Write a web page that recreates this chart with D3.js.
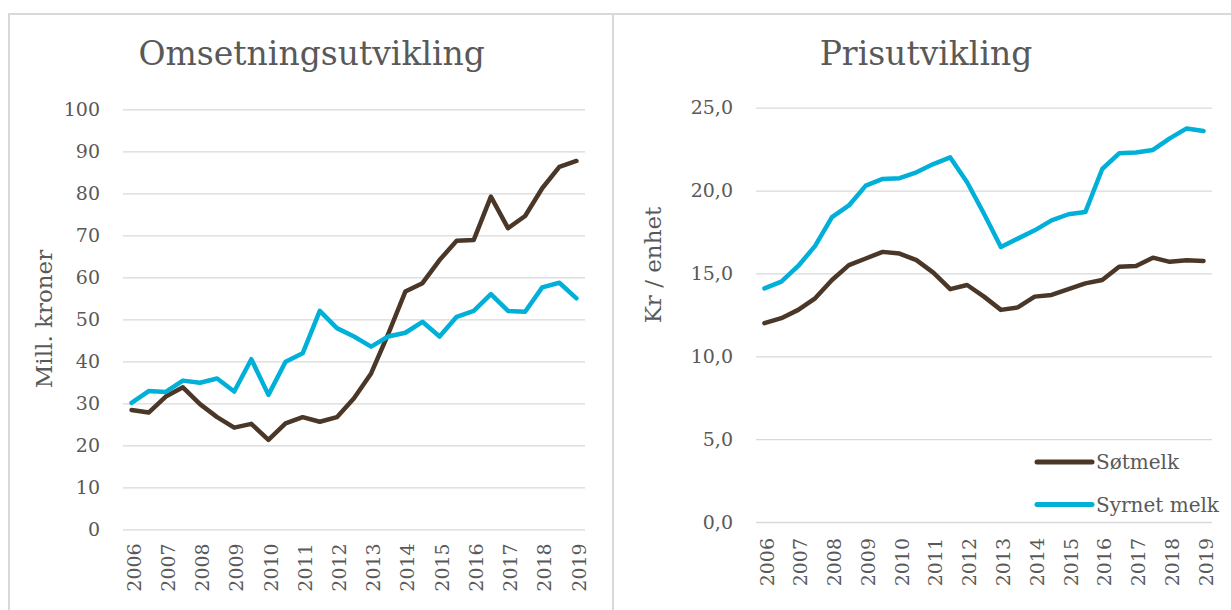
<!DOCTYPE html>
<html>
<head>
<meta charset="utf-8">
<script src="https://cdn.jsdelivr.net/npm/d3@7"></script>
<style>
  body { margin: 0; background: #fff; }
  svg { display: block; font-family: "DejaVu Serif", Georgia, serif; }
</style>
</head>
<body>
<svg id="chart" width="1231" height="610"></svg>
<script>
// half-year periods, labels shown every second period
const periods = ['2006-1', '2006-2', '2007-1', '2007-2', '2008-1', '2008-2', '2009-1', '2009-2',
    '2010-1', '2010-2', '2011-1', '2011-2', '2012-1', '2012-2', '2013-1', '2013-2',
    '2014-1', '2014-2', '2015-1', '2015-2', '2016-1', '2016-2', '2017-1', '2017-2',
    '2018-1', '2018-2', '2019-1']
const yearTicks = periods.filter(p => p.endsWith('-1'))

// Omsetning, mill. kroner
const omsSot = [28.4, 27.8, 31.6, 33.8, 29.8, 26.7, 24.2, 25.1, 21.3, 25.2, 26.7, 25.6, 26.7, 31.2,
    37.1, 46.5, 56.6, 58.6, 64.1, 68.7, 68.9, 79.2, 71.7, 74.6, 81.2, 86.3, 87.7]
const omsSyr = [30.1, 32.9, 32.7, 35.4, 34.9, 35.9, 32.8, 40.5, 32.0, 39.9, 41.9, 52.0, 47.9, 45.9,
    43.5, 45.9, 46.8, 49.4, 45.9, 50.6, 52.0, 56.0, 52.0, 51.8, 57.6, 58.7, 55.0]

// Pris, kr / enhet
const prisSot = [12.0, 12.3, 12.8, 13.5, 14.6, 15.5, 15.9, 16.3, 16.2, 15.8, 15.05, 14.05, 14.3, 13.6,
    12.8, 12.95, 13.6, 13.7, 14.05, 14.4, 14.6, 15.4, 15.45, 15.95, 15.7, 15.8, 15.75]
const prisSyr = [14.1, 14.5, 15.45, 16.66, 18.4, 19.1, 20.3, 20.7, 20.75, 21.1, 21.6, 22.0, 20.5, 18.6,
    16.6, 17.1, 17.6, 18.2, 18.57, 18.7, 21.3, 22.25, 22.3, 22.45, 23.15, 23.75, 23.6]

const omsTicks = [0, 10, 20, 30, 40, 50, 60, 70, 80, 90, 100]
const prisTicks = [0, 5, 10, 15, 20, 25]
const seriesNames = ['Søtmelk', 'Syrnet melk']

const colors = { 'Søtmelk': '#4a3728', 'Syrnet melk': '#00b0d8' }
const textColor = '#595959'
const gridColor = '#d9d9d9'

const svg = d3.select('#chart')

// outer frame
svg.append('path')
    .attr('d', 'M9,610 L9,14 L1240,14 M613,14 L613,610')
    .attr('fill', 'none')
    .attr('stroke', gridColor)
    .attr('stroke-width', 2)

function drawPanel(opt) {
    const xScale = d3.scaleBand()
        .domain(periods)
        .range([opt.left, opt.right])
    const yScale = d3.scaleLinear()
        .domain([0, opt.max])
        .range([opt.bottom, opt.top])

    // y axis with gridlines
    const yAxis = d3.axisLeft(yScale)
        .tickValues(opt.ticks)
        .tickSize(-(opt.right - opt.left))
        .tickPadding(23)
        .tickFormat(opt.format)

    const gy = svg.append('g')
        .attr('transform', 'translate(' + opt.left + ',0)')
        .call(yAxis)
    gy.select('.domain').remove()
    gy.selectAll('line').attr('stroke', gridColor).attr('stroke-width', 1.3)
    gy.selectAll('text')
        .attr('fill', textColor)
        .style('font-size', '19px')
        .style('font-family', '"DejaVu Serif", Georgia, serif')

    // x axis, rotated year labels
    const xAxis = d3.axisBottom(xScale)
        .tickValues(yearTicks)
        .tickSize(0)
        .tickFormat(d => d.slice(0, 4))

    const gx = svg.append('g')
        .attr('transform', 'translate(0,' + opt.bottom + ')')
        .call(xAxis)
    gx.select('.domain').remove()
    gx.selectAll('text')
        .attr('y', 0)
        .attr('dy', '0.35em')
        .attr('text-anchor', 'end')
        .attr('transform', 'translate(2.5,' + opt.labelGap + ') rotate(-90)')
        .attr('fill', textColor)
        .style('font-size', '19px')
        .style('font-family', '"DejaVu Serif", Georgia, serif')

    // lines
    const line = d3.line()
        .x((d, i) => xScale(periods[i]) + xScale.bandwidth() / 2)
        .y(d => yScale(d))

    opt.series.forEach((values, k) => {
        svg.append('path')
            .datum(values)
            .attr('fill', 'none')
            .attr('stroke', colors[seriesNames[k]])
            .attr('stroke-width', 4.5)
            .attr('stroke-linejoin', 'round')
            .attr('stroke-linecap', 'round')
            .attr('d', line)
    })

    // title
    svg.append('text')
        .attr('x', opt.titleX)
        .attr('y', 65)
        .attr('text-anchor', 'middle')
        .attr('fill', textColor)
        .style('font-size', '33px')
        .text(opt.title)

    // y axis title
    svg.append('text')
        .attr('transform', 'translate(' + opt.yTitleX + ',' + opt.yTitleY + ') rotate(-90)')
        .attr('text-anchor', 'middle')
        .attr('fill', textColor)
        .style('font-size', '23px')
        .text(opt.yTitle)
}

drawPanel({
    left: 123, right: 585, top: 109.3, bottom: 529.3, max: 100,
    ticks: omsTicks, format: d => d,
    series: [omsSot, omsSyr], labelGap: 14,
    title: 'Omsetningsutvikling', titleX: 311.7,
    yTitle: 'Mill. kroner', yTitleX: 52, yTitleY: 319
})

drawPanel({
    left: 756, right: 1212, top: 107.7, bottom: 522, max: 25,
    ticks: prisTicks, format: d => d.toFixed(1).replace('.', ','),
    series: [prisSot, prisSyr], labelGap: 16,
    title: 'Prisutvikling', titleX: 926,
    yTitle: 'Kr / enhet', yTitleX: 661, yTitleY: 265
})

// legend
const legend = svg.append('g')
    .attr('transform', 'translate(1037,462)')
seriesNames.forEach((name, i) => {
    const g = legend.append('g').attr('transform', 'translate(0,' + (i * 42.5) + ')')
    g.append('line')
        .attr('x1', 0).attr('x2', 55)
        .attr('stroke', colors[name])
        .attr('stroke-width', 5)
        .attr('stroke-linecap', 'round')
    g.append('text')
        .attr('x', 59)
        .attr('dy', '0.35em')
        .attr('fill', textColor)
        .style('font-size', '20px')
        .text(name)
})
</script>
</body>
</html>
